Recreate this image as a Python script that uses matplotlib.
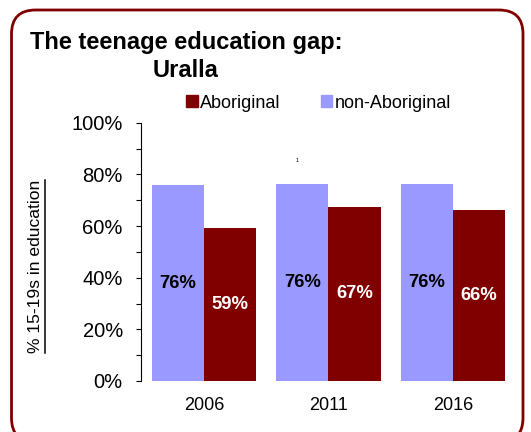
import matplotlib
matplotlib.use("Agg")
import matplotlib.pyplot as plt
from matplotlib import font_manager
from matplotlib.patches import Patch, FancyBboxPatch
from matplotlib.lines import Line2D
import numpy as np

years = ["2006", "2011", "2016"]
non_aboriginal = [75.8, 76.2, 76.3]
aboriginal = [59.4, 67.4, 66.1]
yticks = [0, 20, 40, 60, 80, 100]

purple = "#9999ff"
dred = "#800000"

names = {f.name for f in font_manager.fontManager.ttflist}
if "Liberation Sans Narrow" in names:
    narrow, leg_size = "Liberation Sans Narrow", 15
else:
    narrow, leg_size = "Liberation Sans", 13
plt.rcParams["font.family"] = ["Liberation Sans", "DejaVu Sans"]

fig = plt.figure(figsize=(5.31, 4.32), dpi=100)
ax = fig.add_axes([141 / 531, 51 / 432, 374 / 531, 258.3 / 432])

x = np.arange(len(years))
w = 0.42
b1 = ax.bar(x - w / 2, non_aboriginal, w, color=purple, label="non-Aboriginal")
b2 = ax.bar(x + w / 2, aboriginal, w, color=dred, label="Aboriginal")

for rect, v in zip(b1, non_aboriginal):
    ax.text(rect.get_x() + rect.get_width() / 2, v / 2, f"{round(v)}%",
            ha="center", va="center", fontsize=13.3, fontweight="bold", color="black")
for rect, v in zip(b2, aboriginal):
    ax.text(rect.get_x() + rect.get_width() / 2, v / 2, f"{round(v)}%",
            ha="center", va="center", fontsize=13.3, fontweight="bold", color="white")

ax.set_xlim(-0.508, 2.5)
ax.set_ylim(0, 100)
ax.set_yticks(yticks)
ax.set_yticklabels([f"{t}%" for t in yticks], fontsize=14.5)
ax.set_yticks(np.arange(10, 100, 20), minor=True)
ax.tick_params(axis="y", which="both", direction="out", length=3.6, width=0.8, pad=9.5)
ax.set_xticks(x)
ax.set_xticklabels(years, fontsize=13)
ax.tick_params(axis="x", length=0, pad=11.5)
for s in ["top", "right", "bottom"]:
    ax.spines[s].set_visible(False)
ax.spines["left"].set_linewidth(0.8)

# tiny stray mark from the original
fig.text(297 / 531, 1 - 160 / 432, "1", fontsize=4, ha="center", va="center")

# y label, underlined
fig.text(35.5 / 531, 1 - 266.5 / 432, "% 15-19s in education", rotation=90,
         fontsize=12.6, ha="center", va="center")
fig.add_artist(Line2D([44.5 / 531, 44.5 / 531], [1 - 353 / 432, 1 - 180 / 432],
                      transform=fig.transFigure, color="black", lw=1.1))

# title
fig.text(186 / 531, 1 - 49 / 432, "The teenage education gap:", fontsize=17,
         fontweight="bold", ha="center", va="baseline")
fig.text(186 / 531, 1 - 77 / 432, "Uralla", fontsize=17,
         fontweight="bold", ha="center", va="baseline")

# legend
handles = [Patch(color=dred, label="Aboriginal"), Patch(color=purple, label="non-Aboriginal")]
fig.legend(handles=handles, loc="center left", bbox_to_anchor=(186 / 531, 1 - 103 / 432),
           ncol=2, frameon=False, prop={"family": narrow, "size": leg_size},
           handlelength=0.65, handleheight=0.65, handletextpad=0.15,
           columnspacing=2.2, borderpad=0, borderaxespad=0)

# rounded frame
frame = FancyBboxPatch((0.115, -0.10), 5.115, 4.32, boxstyle="round,pad=0,rounding_size=0.24",
                       transform=fig.dpi_scale_trans, fill=False, edgecolor=dred, lw=2.0)
fig.add_artist(frame)

fig.savefig("out.png", dpi=100)
